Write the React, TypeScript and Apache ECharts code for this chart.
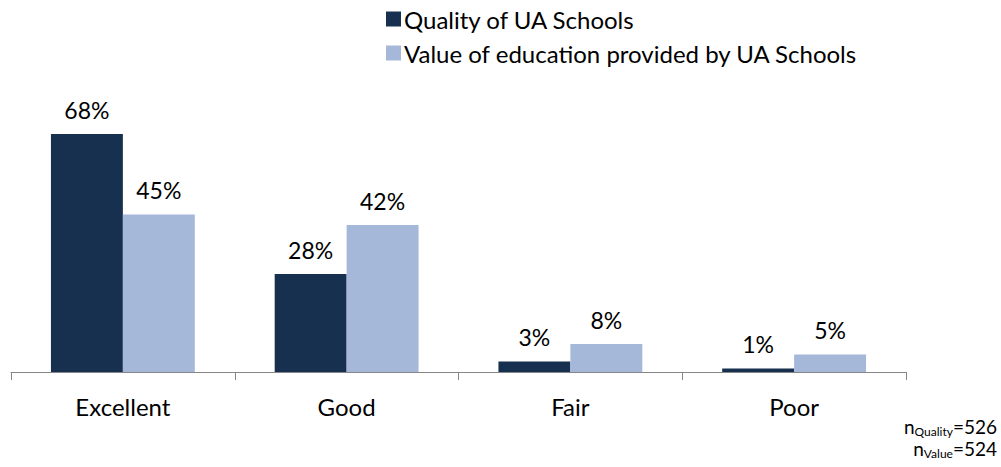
import React, { useEffect, useRef } from "react";
import * as echarts from "echarts";

const categories = ["Excellent", "Good", "Fair", "Poor"];
const qualityValues = [68, 28, 3, 1];
const valueValues = [45, 42, 8, 5];
const seriesNames = ["Quality of UA Schools", "Value of education provided by UA Schools"];
const nQuality = 526;
const nValue = 524;

const FONT = "Lato, 'Open Sans', sans-serif";

export default function App() {
  const ref = useRef<HTMLDivElement>(null);
  useEffect(() => {
    if (!ref.current) return;
    const chart = echarts.init(ref.current, null, { renderer: "svg" });
    const labelStyle = {
      show: true,
      position: "top" as const,
      distance: 13,
      formatter: "{c}%",
      fontSize: 23,
      color: "#000",
      fontFamily: FONT,
    };
    const rich = {
      n: { fontSize: 19, fontFamily: FONT, fill: "#000", lineHeight: 20 },
      s: { fontSize: 12, fontFamily: FONT, fill: "#000", lineHeight: 20, padding: [9, 0, 0, 0] },
    };
    chart.setOption({
      animation: false,
      textStyle: { fontFamily: FONT },
      legend: {
        orient: "vertical",
        left: 381,
        top: 2,
        itemWidth: 15,
        itemHeight: 15,
        itemGap: 10,
        icon: "rect",
        textStyle: { fontSize: 24, color: "#000", fontFamily: FONT, padding: [0, 0, 0, -2] },
        data: seriesNames,
      },
      grid: { left: 11, right: 95, top: 92, bottom: 95 },
      xAxis: {
        type: "category",
        data: categories,
        axisLine: { lineStyle: { color: "#868686", width: 1 } },
        axisTick: { show: true, length: 8, lineStyle: { color: "#868686" } },
        axisLabel: { fontSize: 24, color: "#000", margin: 22, fontFamily: FONT },
      },
      yAxis: {
        type: "value",
        min: 0,
        max: 80,
        show: false,
        splitLine: { show: false },
      },
      series: [
        {
          name: seriesNames[0],
          type: "bar",
          data: qualityValues,
          itemStyle: { color: "#17304F" },
          barGap: "0%",
          barCategoryGap: "35.7%",
          label: labelStyle,
        },
        {
          name: seriesNames[1],
          type: "bar",
          data: valueValues,
          itemStyle: { color: "#A5B8D9" },
          barGap: "0%",
          barCategoryGap: "35.7%",
          label: labelStyle,
        },
      ],
      graphic: [
        {
          type: "text",
          right: 4,
          top: 416,
          style: { text: `{n|n}{s|Quality}{n|=${nQuality}}`, textAlign: "right", rich },
        },
        {
          type: "text",
          right: 4,
          top: 438,
          style: { text: `{n|n}{s|Value}{n|=${nValue}}`, textAlign: "right", rich },
        },
      ],
    });
    return () => chart.dispose();
  }, []);
  return <div ref={ref} style={{ width: 1001, height: 467, position: "absolute", left: 0, top: 0 }} />;
}
